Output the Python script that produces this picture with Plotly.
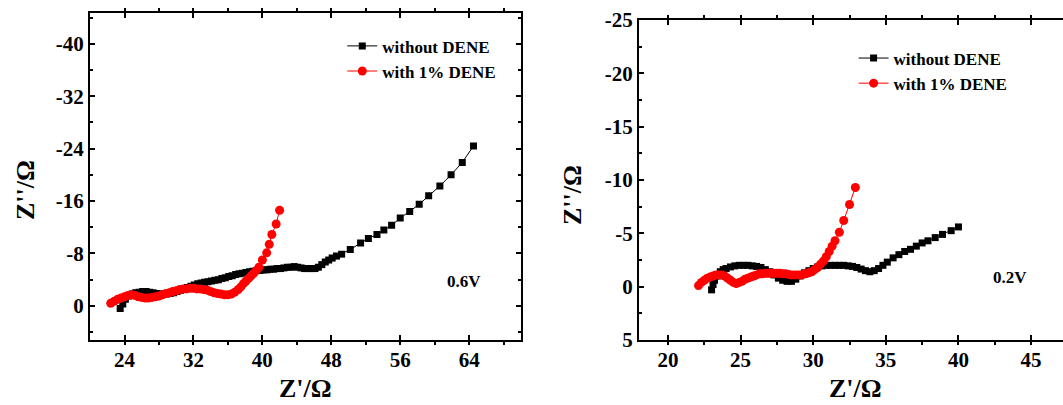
import plotly.graph_objects as go

# ---------------- data: left panel (0.6 V) ----------------
left_black_x = [23.5, 23.8, 24.1, 24.5, 24.9, 25.3, 25.7, 26.1, 26.5, 26.9, 27.3, 27.7, 28.1, 28.5, 28.9,
                29.3, 29.7, 30.1, 30.5, 30.9, 31.3, 31.7, 32.1, 32.5, 32.9, 33.3, 33.7, 34.1, 34.5, 34.9,
                35.3, 35.7, 36.1, 36.5, 36.9, 37.3, 37.7, 38.1, 38.5, 38.9, 39.3, 39.7, 40.1, 40.5, 40.9,
                41.3, 41.7, 42.1, 42.5, 42.9, 43.3, 43.7, 44.1, 44.5, 44.9, 45.3, 45.7, 46.1, 46.5, 46.9,
                47.3, 47.7, 48.1, 48.6, 49.2, 50.2, 51.4, 52.3, 53.3, 54.1, 55.0, 56.0, 57.1, 58.2, 59.3,
                60.6, 61.9, 63.2, 64.5]
left_black_y = [0.4, -0.3, -1.0, -1.5, -1.8, -2.0, -2.1, -2.2, -2.2, -2.1, -2.0, -1.9, -1.8, -1.8, -1.8,
                -1.9, -2.0, -2.2, -2.4, -2.6, -2.8, -3.0, -3.2, -3.4, -3.5, -3.6, -3.7, -3.8, -3.9, -4.0,
                -4.2, -4.3, -4.5, -4.6, -4.8, -4.9, -5.0, -5.1, -5.2, -5.3, -5.4, -5.4, -5.5, -5.5, -5.6,
                -5.6, -5.7, -5.7, -5.8, -5.9, -5.9, -6.0, -5.9, -5.8, -5.7, -5.7, -5.7, -5.7, -5.9, -6.3,
                -6.7, -7.0, -7.3, -7.6, -7.9, -8.6, -9.6, -10.3, -10.9, -11.6, -12.3, -13.4, -14.4, -15.5, -16.8,
                -18.3, -20.0, -21.9, -24.4]

left_red_x = [22.4, 22.8, 23.2, 23.6, 24.0, 24.4, 24.8, 25.2, 25.6, 26.0, 26.4, 26.8, 27.2, 27.6, 28.0,
              28.4, 28.8, 29.2, 29.6, 30.0, 30.4, 30.8, 31.2, 31.6, 32.0, 32.4, 32.8, 33.2, 33.6, 34.0,
              34.4, 34.8, 35.2, 35.6, 36.0, 36.4, 36.8, 37.2, 37.5, 37.8, 38.1, 38.4, 38.7, 39.0, 39.3,
              39.6, 40.0, 40.5, 40.8, 41.1, 41.6, 42.0]
left_red_y = [-0.4, -0.7, -1.0, -1.2, -1.4, -1.6, -1.7, -1.6, -1.4, -1.3, -1.2, -1.2, -1.3, -1.4, -1.5,
              -1.7, -1.9, -2.0, -2.2, -2.3, -2.5, -2.6, -2.6, -2.7, -2.7, -2.6, -2.6, -2.5, -2.4, -2.2,
              -2.0, -1.9, -1.8, -1.7, -1.7, -1.8, -2.1, -2.5, -2.9, -3.4, -3.8, -4.2, -4.6, -5.0, -5.4,
              -5.9, -7.0, -8.1, -9.4, -10.9, -12.5, -14.6]

# ---------------- data: right panel (0.2 V) ----------------
right_black_x = [23.0, 23.1, 23.2, 23.4, 23.6, 23.8, 24.0, 24.3, 24.6, 24.9, 25.2, 25.5, 25.8, 26.1, 26.4,
                 26.7, 27.0, 27.3, 27.6, 27.9, 28.2, 28.5, 28.8, 29.1, 29.4, 29.7, 30.0, 30.3, 30.6, 30.9,
                 31.2, 31.5, 31.8, 32.1, 32.4, 32.7, 33.0, 33.3, 33.6, 33.9, 34.2, 34.5, 34.8, 35.1, 35.5,
                 35.9, 36.3, 36.7, 37.1, 37.5, 37.9, 38.4, 38.9, 39.5, 40.0]
right_black_y = [0.3, -0.2, -0.6, -1.0, -1.4, -1.6, -1.7, -1.85, -1.95, -2.0, -2.0, -2.0, -1.95, -1.9, -1.8,
                 -1.6, -1.4, -1.1, -0.8, -0.6, -0.5, -0.5, -0.7, -1.0, -1.3, -1.5, -1.7, -1.85, -1.95, -2.0,
                 -2.0, -2.0, -2.0, -2.0, -1.95, -1.9, -1.8, -1.65, -1.5, -1.4, -1.5, -1.7, -2.0, -2.3, -2.7,
                 -3.0, -3.3, -3.5, -3.8, -4.1, -4.3, -4.6, -4.9, -5.25, -5.6]

right_red_x = [22.1, 22.3, 22.5, 22.7, 22.9, 23.1, 23.3, 23.5, 23.7, 23.9, 24.1, 24.3, 24.5, 24.7, 24.9,
               25.1, 25.3, 25.5, 25.7, 25.9, 26.1, 26.3, 26.5, 26.7, 26.9, 27.1, 27.3, 27.5, 27.7, 27.9,
               28.1, 28.3, 28.5, 28.7, 28.9, 29.1, 29.3, 29.5, 29.7, 29.9, 30.1, 30.3, 30.5, 30.7, 30.9,
               31.1, 31.3, 31.5, 31.8, 32.1, 32.5, 32.9]
right_red_y = [-0.1, -0.4, -0.6, -0.8, -0.9, -1.0, -1.1, -1.1, -1.1, -1.0, -0.8, -0.6, -0.4, -0.3, -0.4,
               -0.5, -0.7, -0.8, -0.9, -1.0, -1.1, -1.2, -1.2, -1.25, -1.25, -1.25, -1.25, -1.25, -1.25, -1.2,
               -1.2, -1.15, -1.1, -1.1, -1.1, -1.1, -1.15, -1.2, -1.3, -1.4, -1.6, -1.8, -2.1, -2.4, -2.8,
               -3.3, -3.8, -4.3, -5.1, -6.2, -7.7, -9.3]

series_names = ["without DENE", "with 1% DENE"]
left_xticks = [24, 32, 40, 48, 56, 64]
left_yticks = [-40, -32, -24, -16, -8, 0]
right_xticks = [20, 25, 30, 35, 40, 45]
right_yticks = [-25, -20, -15, -10, -5, 0, 5]
panel_labels = ["0.6V", "0.2V"]

FONT = "Liberation Serif"

fig = go.Figure()

def add_pair(bx, by, rx, ry, xa, ya, legend):
    fig.add_trace(go.Scatter(x=bx, y=by, mode="lines+markers", name=series_names[0],
                             line=dict(color="black", width=1),
                             marker=dict(symbol="square", size=7, color="black"),
                             xaxis=xa, yaxis=ya, legend=legend))
    fig.add_trace(go.Scatter(x=rx, y=ry, mode="lines+markers", name=series_names[1],
                             line=dict(color="#ff0000", width=1),
                             marker=dict(symbol="circle", size=9, color="#ff0000"),
                             xaxis=xa, yaxis=ya, legend=legend))

add_pair(left_black_x, left_black_y, left_red_x, left_red_y, "x", "y", "legend")
add_pair(right_black_x, right_black_y, right_red_x, right_red_y, "x2", "y2", "legend2")

def bold(vals):
    return ["<b>%s</b>" % v for v in vals]

tickfont = dict(family=FONT, size=21, color="black", weight="bold")
common = dict(showline=True, linecolor="black", linewidth=2, ticks="inside", ticklen=5,
              tickwidth=2, tickcolor="black", showgrid=False, zeroline=False,
              tickfont=tickfont, automargin=False)

legfont = dict(family=FONT, size=17, color="black", weight="bold")
fig.update_layout(
    width=1063, height=405,
    margin=dict(l=0, r=0, t=0, b=0),
    paper_bgcolor="white", plot_bgcolor="white",
    xaxis=dict(domain=[0.0847, 0.490], range=[20, 70], tickvals=left_xticks, ticktext=bold(left_xticks),
               mirror="ticks", anchor="y",
               minor=dict(dtick=4, tick0=0, ticks="outside", ticklen=3, tickwidth=1.5, tickcolor="black"),
               **common),
    yaxis=dict(domain=[0.1605, 0.968], range=[5.2, -44.7], tickvals=left_yticks, ticktext=bold(left_yticks),
               mirror="ticks", anchor="x",
               minor=dict(dtick=4, tick0=0, ticks="inside", ticklen=3, tickwidth=1.5, tickcolor="black"),
               **common),
    xaxis2=dict(domain=[0.6011, 1.0], range=[18, 47.2], tickvals=right_xticks, ticktext=bold(right_xticks),
                mirror="ticks", anchor="y2",
                minor=dict(dtick=2.5, tick0=0, ticks="outside", ticklen=3, tickwidth=1.5, tickcolor="black"),
                **common),
    yaxis2=dict(domain=[0.1605, 0.9506], range=[5, -25], tickvals=right_yticks, ticktext=bold(right_yticks),
                mirror=False, anchor="x2",
                minor=dict(dtick=2.5, tick0=0, ticks="inside", ticklen=3, tickwidth=1.5, tickcolor="black"),
                **common),
    legend=dict(x=0.322, y=0.93, xanchor="left", yanchor="top", bgcolor="rgba(0,0,0,0)",
                font=legfont, tracegroupgap=0, itemwidth=30),
    legend2=dict(x=0.803, y=0.90, xanchor="left", yanchor="top", bgcolor="rgba(0,0,0,0)",
                 font=legfont, tracegroupgap=0, itemwidth=30),
    showlegend=True,
)

titlefont = dict(family=FONT, size=26, color="black", weight="bold")
labfont = dict(family=FONT, size=17, color="black", weight="bold")
ann = [
    dict(text="Z'/Ω", x=305, y=388, font=titlefont),
    dict(text="Z'/Ω", x=855, y=388, font=titlefont),
    dict(text="Z''/Ω", x=25, y=190, font=titlefont, textangle=-90),
    dict(text="Z''/Ω", x=573, y=195, font=titlefont, textangle=-90),
    dict(text=panel_labels[0], x=464, y=281, font=labfont),
    dict(text=panel_labels[1], x=1010, y=277, font=labfont),
]
for a in ann:
    fig.add_annotation(text=a["text"], x=a["x"] / 1063, y=1 - a["y"] / 405,
                       xref="paper", yref="paper", showarrow=False,
                       xanchor="center", yanchor="middle",
                       textangle=a.get("textangle", 0), font=a["font"])

fig.write_html("out.html")
